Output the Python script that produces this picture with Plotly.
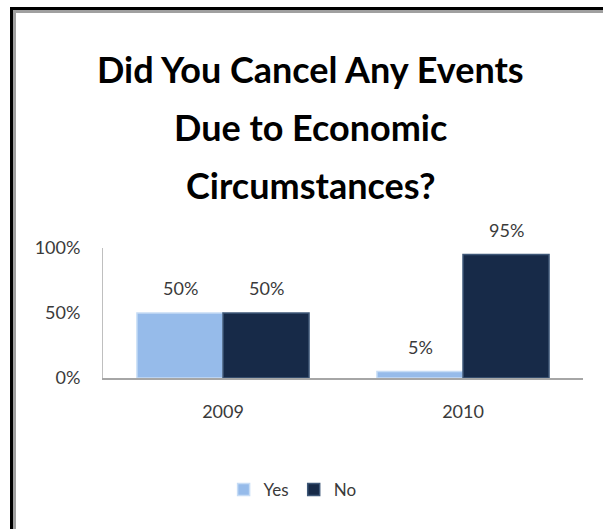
import plotly.graph_objects as go

categories = ["2009", "2010"]
yes_values = [0.50, 0.05]
no_values = [0.50, 0.95]
tick_vals = [0, 0.5, 1.0]
tick_text = ["0%", "50%", "100%"]
title_lines = ["Did You Cancel Any Events", "Due to Economic", "Circumstances?"]

W, H = 603, 529
L, R, T, B = 103, 20, 248, 151
pw, ph = W - L - R, H - T - B

def px_x(p):
    return (p - L) / pw

def px_y(p):
    return (H - B - p) / ph

TXT = "#3A3A3A"
FONT = "Lato"

fig = go.Figure()
fig.add_bar(x=categories, y=yes_values, name="Yes",
            marker=dict(color="#96BBEA", line=dict(color="#C6DCF5", width=1.5)))
fig.add_bar(x=categories, y=no_values, name="No",
            marker=dict(color="#172A48", line=dict(color="#3F5878", width=1.5)))

annotations = []
for i, line in enumerate(title_lines):
    annotations.append(dict(text=f"<b>{line}</b>", x=px_x(310), y=px_y(69 + 58 * i),
                            xref="paper", yref="paper", showarrow=False,
                            xanchor="center", yanchor="middle",
                            font=dict(family=FONT, size=36, color="#000000")))

# data labels above bars (x given as category index)
for vals, shift in ((yes_values, -43), (no_values, 43)):
    for idx, v in enumerate(vals):
        annotations.append(dict(text=f"{v:.0%}", x=idx, y=v, xref="x", yref="y",
                                showarrow=False, xanchor="center", yanchor="bottom",
                                xshift=shift, yshift=12,
                                font=dict(family=FONT, size=18, color=TXT)))

shapes = [
    dict(type="line", xref="paper", yref="paper", x0=px_x(11.5), x1=px_x(11.5),
         y0=px_y(8), y1=px_y(529), line=dict(color="#000000", width=3)),
    dict(type="line", xref="paper", yref="paper", x0=px_x(14.5), x1=px_x(14.5),
         y0=px_y(11), y1=px_y(529), line=dict(color="#A0A0A0", width=3)),
    dict(type="line", xref="paper", yref="paper", x0=px_x(10), x1=px_x(603),
         y0=px_y(8.5), y1=px_y(8.5), line=dict(color="#000000", width=3)),
    dict(type="line", xref="paper", yref="paper", x0=px_x(13), x1=px_x(603),
         y0=px_y(11.5), y1=px_y(11.5), line=dict(color="#A0A0A0", width=3)),
]

fig.update_layout(
    width=W, height=H,
    margin=dict(l=L, r=R, t=T, b=B),
    paper_bgcolor="white", plot_bgcolor="white",
    barmode="group", bargap=0.283, bargroupgap=0,
    showlegend=True,
    legend=dict(orientation="h", x=0.395, xanchor="center", y=px_y(490), yanchor="middle",
                font=dict(family=FONT, size=17, color=TXT),
                itemwidth=30, traceorder="normal", tracegroupgap=0),
    annotations=annotations,
    shapes=shapes,
    xaxis=dict(type="category", range=[-0.5, 1.5], showline=True, linecolor="#A6A6A6",
               linewidth=1.5, ticks="", ticklabelstandoff=17,
               tickfont=dict(family=FONT, size=18, color=TXT), showgrid=False),
    yaxis=dict(range=[0, 1.0], tickvals=tick_vals, ticktext=tick_text,
               showline=True, linecolor="#BFBFBF", linewidth=1, ticks="", showgrid=False,
               zeroline=False, ticklabelstandoff=18,
               tickfont=dict(family=FONT, size=18, color=TXT)),
)

fig.write_html("out.html")
